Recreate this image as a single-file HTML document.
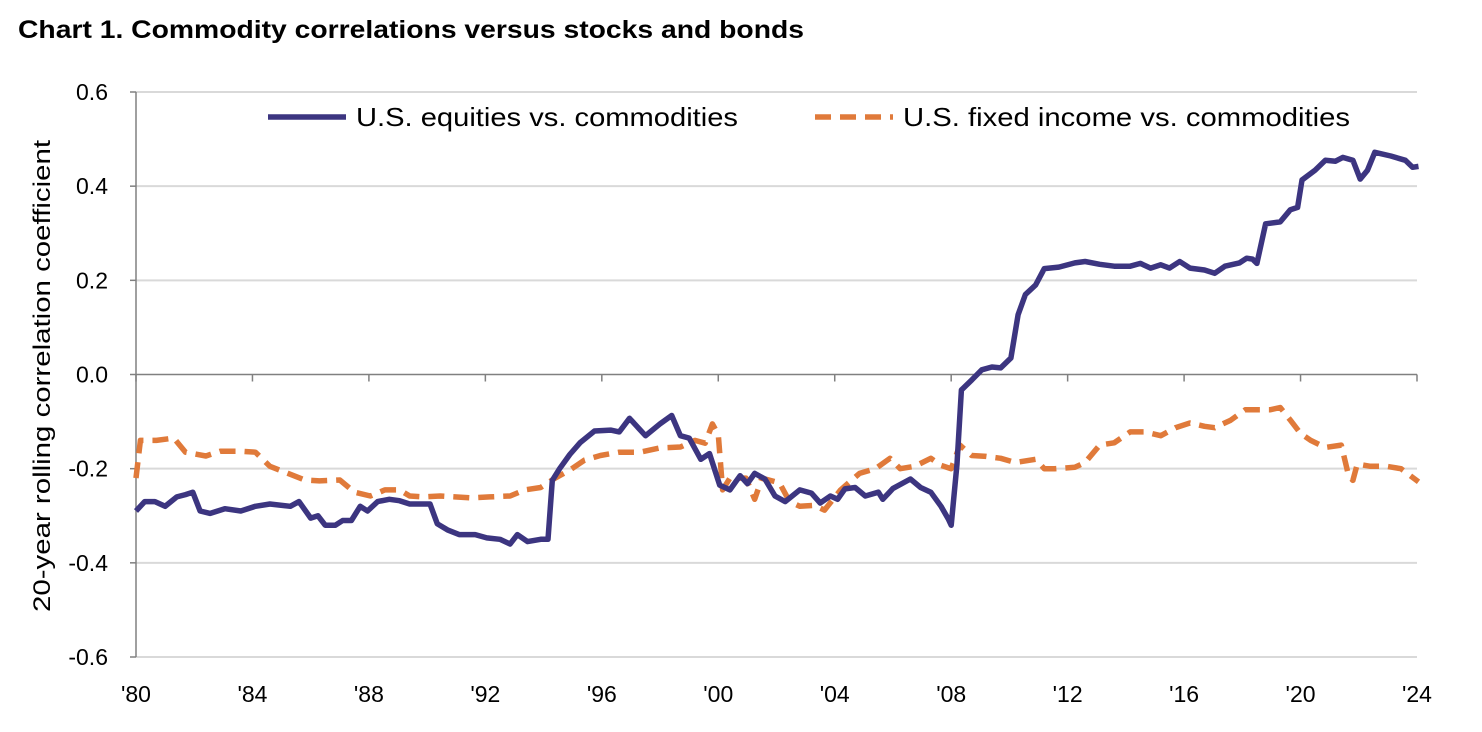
<!DOCTYPE html>
<html><head><meta charset="utf-8"><style>
body{margin:0;background:#fff;width:1482px;height:732px;overflow:hidden;font-family:"Liberation Sans",sans-serif}
</style></head><body>
<svg id="chart" width="1482" height="732" style="position:absolute;left:0;top:0">
<text x="18" y="38" font-size="25" font-weight="bold" textLength="786" lengthAdjust="spacingAndGlyphs" font-family="Liberation Sans, sans-serif">Chart 1. Commodity correlations versus stocks and bonds</text>
</svg>
<script>
const xTickLabels=["'80","'84","'88","'92","'96","'00","'04","'08","'12","'16","'20","'24"];
const yTicks=[0.6,0.4,0.2,0.0,-0.2,-0.4,-0.6];
const yTickLabels=["0.6","0.4","0.2","0.0","-0.2","-0.4","-0.6"];
const eqYears=[1980,1980.3,1980.65,1981,1981.4,1981.7,1981.95,1982.2,1982.55,1983.05,1983.6,1984.1,1984.6,1985.3,1985.6,1986,1986.25,1986.5,1986.85,1987.1,1987.4,1987.7,1987.95,1988.3,1988.7,1989.05,1989.4,1990.1,1990.35,1990.7,1991.1,1991.65,1992.05,1992.5,1992.85,1993.1,1993.45,1993.9,1994.15,1994.3,1994.55,1994.9,1995.25,1995.75,1996.3,1996.6,1996.95,1997.5,1998,1998.4,1998.7,1999,1999.4,1999.7,2000.05,2000.4,2000.75,2001.0,2001.25,2001.6,2001.95,2002.3,2002.8,2003.2,2003.5,2003.85,2004.1,2004.35,2004.7,2005.05,2005.5,2005.65,2006,2006.6,2006.95,2007.3,2007.65,2007.9,2008,2008.2,2008.35,2008.7,2009.05,2009.4,2009.7,2010.05,2010.3,2010.55,2010.9,2011.2,2011.7,2012.25,2012.6,2013.1,2013.6,2014.15,2014.5,2014.85,2015.2,2015.5,2015.85,2016.2,2016.7,2017.05,2017.4,2017.9,2018.15,2018.35,2018.5,2018.8,2019.3,2019.65,2019.9,2020.05,2020.5,2020.85,2021.2,2021.45,2021.8,2022.05,2022.3,2022.55,2023.1,2023.6,2023.85,2024.05];
const eqValues=[-0.29,-0.27,-0.27,-0.28,-0.26,-0.255,-0.25,-0.29,-0.295,-0.285,-0.29,-0.28,-0.275,-0.28,-0.27,-0.305,-0.3,-0.32,-0.32,-0.31,-0.31,-0.28,-0.29,-0.27,-0.265,-0.268,-0.275,-0.275,-0.317,-0.33,-0.34,-0.34,-0.347,-0.35,-0.36,-0.34,-0.355,-0.35,-0.35,-0.225,-0.2,-0.17,-0.145,-0.12,-0.118,-0.122,-0.093,-0.13,-0.105,-0.087,-0.13,-0.135,-0.18,-0.168,-0.235,-0.245,-0.215,-0.232,-0.21,-0.222,-0.258,-0.27,-0.245,-0.252,-0.273,-0.258,-0.265,-0.243,-0.24,-0.258,-0.25,-0.265,-0.242,-0.222,-0.24,-0.25,-0.28,-0.307,-0.32,-0.19,-0.033,-0.012,0.01,0.016,0.014,0.035,0.127,0.17,0.19,0.225,0.228,0.237,0.24,0.234,0.23,0.23,0.236,0.226,0.233,0.226,0.24,0.226,0.222,0.215,0.23,0.237,0.247,0.245,0.236,0.32,0.324,0.35,0.355,0.413,0.434,0.455,0.453,0.461,0.455,0.415,0.434,0.472,0.464,0.455,0.44,0.442];
const fiYears=[1980,1980.15,1980.7,1981.3,1981.7,1982.4,1982.9,1983.6,1984.1,1984.6,1985.1,1985.8,1986.3,1987,1987.5,1988.05,1988.55,1989.05,1989.4,1989.9,1990.45,1990.95,1991.5,1992.15,1992.85,1993.35,1993.9,1994.4,1994.9,1995.4,1995.95,1996.6,1997.3,1998,1998.7,1999.2,1999.55,1999.8,2000,2000.15,2000.4,2000.95,2001.25,2001.5,2002.1,2002.45,2002.8,2003.3,2003.65,2004.2,2004.85,2005.4,2005.9,2006.25,2006.75,2007.3,2007.65,2008,2008.3,2008.7,2009.2,2009.7,2010.2,2010.9,2011.2,2011.55,2012.25,2012.6,2013.1,2013.6,2014.15,2014.65,2015.2,2015.7,2016.2,2016.7,2017.05,2017.6,2018.1,2018.45,2018.95,2019.3,2019.65,2020,2020.35,2020.85,2021.4,2021.65,2021.8,2021.95,2022.4,2022.95,2023.45,2024.05];
const fiValues=[-0.22,-0.14,-0.14,-0.135,-0.165,-0.173,-0.163,-0.163,-0.165,-0.195,-0.207,-0.224,-0.226,-0.224,-0.25,-0.258,-0.245,-0.245,-0.258,-0.26,-0.258,-0.26,-0.262,-0.26,-0.258,-0.245,-0.24,-0.22,-0.203,-0.182,-0.172,-0.165,-0.165,-0.156,-0.154,-0.14,-0.146,-0.105,-0.128,-0.245,-0.22,-0.22,-0.265,-0.22,-0.23,-0.27,-0.28,-0.278,-0.288,-0.245,-0.21,-0.2,-0.178,-0.2,-0.195,-0.178,-0.193,-0.2,-0.15,-0.172,-0.174,-0.178,-0.187,-0.18,-0.2,-0.2,-0.197,-0.187,-0.15,-0.145,-0.122,-0.122,-0.13,-0.113,-0.103,-0.11,-0.113,-0.097,-0.075,-0.075,-0.075,-0.07,-0.097,-0.125,-0.14,-0.155,-0.15,-0.215,-0.225,-0.19,-0.195,-0.195,-0.2,-0.228];

const NS="http://www.w3.org/2000/svg";
const svg=document.getElementById('chart');
const X0=136,X1=1417,Y0=92,Y1=657;
const xs=yr=>X0+(yr-1980)/44*(X1-X0);
const ys=v=>Y0+(0.6-v)/1.2*(Y1-Y0);
function mk(tag,attrs){const e=document.createElementNS(NS,tag);for(const k in attrs)e.setAttribute(k,attrs[k]);svg.appendChild(e);return e;}
yTicks.forEach((v,i)=>{
  const y=ys(v);
  const g=mk('line',{x1:X0,x2:X1,y1:y,y2:y,stroke:v===0?'#808080':'#d9d9d9','stroke-width':v===0?1.5:2});
  
  
  mk('line',{x1:X0-6,x2:X0,y1:y,y2:y,stroke:'#808080','stroke-width':1.5});
  const t=mk('text',{x:108,y:y+8,'text-anchor':'end','font-size':23,fill:'#000','font-family':'Liberation Sans, sans-serif'});
  t.textContent=yTickLabels[i];
  
  
});
const ya=mk('line',{x1:X0,x2:X0,y1:Y0,y2:Y1,stroke:'#808080','stroke-width':1.5});


xTickLabels.forEach((l,i)=>{
  const x=xs(1980+i*4);
  mk('line',{x1:x,x2:x,y1:ys(0),y2:ys(0)+7,stroke:'#808080','stroke-width':1.5});
  const t=mk('text',{x:x,y:702,'text-anchor':'middle','font-size':23,fill:'#000','font-family':'Liberation Sans, sans-serif'});
  t.textContent=l;
  
  
});
const yt=mk('text',{x:0,y:0,transform:'translate(50,376) rotate(-90)','text-anchor':'middle','font-size':24,fill:'#000','font-family':'Liberation Sans, sans-serif',textLength:472,lengthAdjust:'spacingAndGlyphs'});
yt.textContent='20-year rolling correlation coefficient';


function path(years,vals){return years.map((y,i)=>(i?'L':'M')+xs(y).toFixed(1)+','+ys(vals[i]).toFixed(1)).join(' ');}
const fi=mk('path',{d:path(fiYears,fiValues),fill:'none',stroke:'#e07a3a','stroke-width':5.5,'stroke-dasharray':'16,9','stroke-linejoin':'round'});


const eq=mk('path',{d:path(eqYears,eqValues),fill:'none',stroke:'#3c3580','stroke-width':5.5,'stroke-linejoin':'round'});


const l1=mk('line',{x1:268,x2:346,y1:117,y2:117,stroke:'#3c3580','stroke-width':5.5});


const t1=mk('text',{x:356,y:126,'font-size':26,fill:'#000','font-family':'Liberation Sans, sans-serif',textLength:382,lengthAdjust:'spacingAndGlyphs'});
t1.textContent='U.S. equities vs. commodities';


const l2=mk('line',{x1:815,x2:893,y1:117,y2:117,stroke:'#e07a3a','stroke-width':5.5,'stroke-dasharray':'16,9'});


const t2=mk('text',{x:903,y:126,'font-size':26,fill:'#000','font-family':'Liberation Sans, sans-serif',textLength:447,lengthAdjust:'spacingAndGlyphs'});
t2.textContent='U.S. fixed income vs. commodities';


</script>
</body></html>
